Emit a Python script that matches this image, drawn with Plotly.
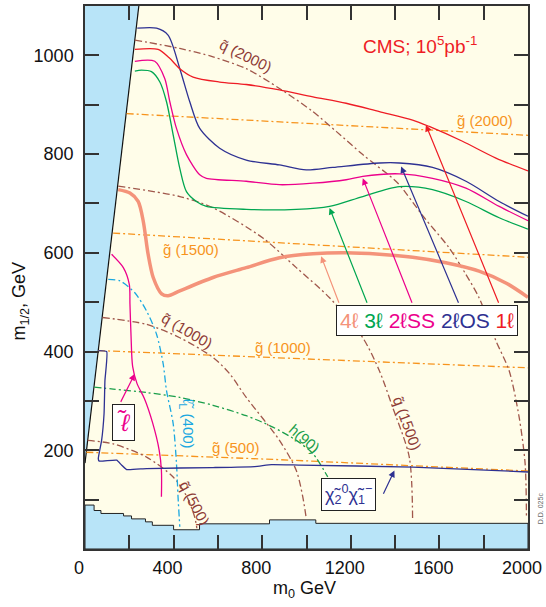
import plotly.graph_objects as go

# ---------------- data (m0, m1/2 in GeV) ----------------
x_tick_vals = [0, 400, 800, 1200, 1600, 2000]
x_tick_text = ['0', '400', '800', '1200', '1600', '2000']
y_tick_vals = [200, 400, 600, 800, 1000]
y_tick_text = ['200', '400', '600', '800', '1000']

# excluded regions
left_edge_m0 = [0, 243]
left_edge_m12 = [174, 1100]
stair_edges = [0, 41, 72, 174, 210, 273, 304, 400, 517, 833, 1042, 2000]
stair_levels = [89, 78, 72, 67, 61, 55, 48, 39, 51, 59, 52]

# reach contours
red_1l_m0 = [225, 330, 380, 428, 488, 608, 728, 878, 1029, 1179, 1329, 1479, 1554, 1704, 1855, 2000]
red_1l_m12 = [1012, 1012, 995, 973, 956, 946, 941, 930, 916, 903, 886, 869, 856, 826, 792, 766]

os_2l_m0 = [236, 323, 375, 428, 473, 518, 608, 728, 878, 999, 1119, 1330, 1419, 1569, 1720, 1870, 2000]
os_2l_m12 = [1055, 1055, 1041, 973, 906, 852, 812, 788, 778, 768, 773, 782, 782, 773, 745, 704, 674]

ss_2l_m0 = [225, 315, 360, 383, 413, 458, 518, 548, 728, 878, 1029, 1179, 1254, 1419, 1569, 1720, 1870, 2000]
ss_2l_m12 = [988, 988, 953, 906, 852, 799, 758, 751, 745, 738, 741, 748, 755, 760, 751, 731, 694, 665]

l3_m0 = [225, 255, 300, 338, 368, 398, 428, 458, 503, 548, 728, 954, 1104, 1254, 1419, 1569, 1720, 1870, 2000]
l3_m12 = [968, 970, 967, 946, 906, 839, 771, 724, 704, 694, 688, 688, 694, 714, 734, 728, 704, 671, 648]

l4_m0 = [150, 203, 240, 263, 285, 308, 346, 375, 428, 578, 728, 878, 1029, 1179, 1329, 1479, 1629, 1779, 1900, 2000]
l4_m12 = [728, 721, 704, 664, 597, 550, 517, 513, 523, 550, 570, 590, 598, 600, 597, 591, 580, 563, 539, 510]

slep_m0 = [120, 173, 200, 203, 208, 215, 235, 268, 305, 335, 345, 345]
slep_m12 = [597, 570, 536, 496, 430, 370, 335, 305, 256, 200, 159, 106]

chi_m0 = [60, 98, 90, 86, 75, 60, 64, 143, 165, 188, 278, 578, 766, 842, 969, 1479, 2000]
chi_m12 = [402, 400, 341, 274, 220, 183, 178, 180, 170, 161, 163, 165, 167, 171, 170, 166, 156]

# mass contours
sl400_m0 = [105, 158, 225, 278, 323, 353, 368, 398, 413, 420, 428]
sl400_m12 = [546, 543, 519, 482, 435, 375, 321, 254, 173, 106, 45]

h90_m0 = [41, 127, 278, 428, 578, 728, 848, 954, 1029, 1096]
h90_m12 = [328, 324, 317, 307, 291, 270, 247, 220, 193, 146]

q2000_m0 = [225, 428, 578, 728, 878, 1029, 1134, 1254, 1389, 1419, 1532, 1644, 1720, 1779, 1855, 1915, 1960, 1987, 1993]
q2000_m12 = [1031, 1014, 997, 973, 933, 886, 846, 799, 751, 738, 671, 610, 556, 509, 422, 361, 267, 173, 62]
q1500_m0 = [150, 428, 578, 803, 954, 1104, 1254, 1329, 1389, 1464, 1479]
q1500_m12 = [735, 714, 691, 630, 570, 509, 428, 361, 287, 186, 59]
q1000_m0 = [79, 278, 428, 578, 653, 728, 878, 954, 983, 999]
q1000_m12 = [469, 455, 428, 388, 355, 307, 220, 159, 106, 62]
q500_m0 = [12, 127, 278, 398, 460, 495, 505]
q500_m12 = [220, 213, 186, 146, 106, 65, 42]

g2000_m0, g2000_m12 = [188, 2000], [882, 838]
g1500_m0, g1500_m12 = [127, 2000], [640, 591]
g1000_m0, g1000_m12 = [59, 2000], [402, 367]
g500_m0, g500_m12 = [6, 878, 2000], [196, 181, 158]

# ---------------- styles ----------------
FONT = "Liberation Sans, Arial, Helvetica, sans-serif"
C_RED = '#EE1C25'
C_NAVY = '#2E3192'
C_MAG = '#EC008C'
C_GRN = '#00A651'
C_SAL = '#F4937A'
C_BRN = '#A0574B'
C_BRN_T = '#8E3B36'
C_ORG = '#F7941D'
C_CYAN = '#1BA8E0'
C_HGRN = '#1A9E4A'
C_FILL = '#B8E4F8'
DASHDOT = '7px,3px,2px,3px'

fig = go.Figure()

# excluded regions
fig.add_trace(go.Scatter(
    x=[left_edge_m0[0], left_edge_m0[1], 0], y=[left_edge_m12[0], left_edge_m12[1], left_edge_m12[1]],
    fill='toself', fillcolor=C_FILL, line=dict(width=0), mode='lines',
    hoverinfo='skip', showlegend=False))
fig.add_trace(go.Scatter(x=left_edge_m0, y=left_edge_m12, mode='lines',
                         line=dict(color='#111', width=1.2), hoverinfo='skip', showlegend=False))

sx, sy = [0], [0]
for i, lvl in enumerate(stair_levels):
    sx += [stair_edges[i], stair_edges[i + 1]]
    sy += [lvl, lvl]
sx += [stair_edges[-1], 0]
sy += [0, 0]
fig.add_trace(go.Scatter(x=sx, y=sy, fill='toself', fillcolor=C_FILL, mode='lines',
                         line=dict(color='#222', width=1), hoverinfo='skip', showlegend=False))


def add_line(x, y, color, width=1.3, dash='solid', shape='spline', smoothing=0.8):
    fig.add_trace(go.Scatter(x=x, y=y, mode='lines',
                             line=dict(color=color, width=width, dash=dash, shape=shape,
                                       smoothing=smoothing if shape == 'spline' else None),
                             hoverinfo='skip', showlegend=False))


# mass contours
for gx, gy in [(g2000_m0, g2000_m12), (g1500_m0, g1500_m12), (g1000_m0, g1000_m12), (g500_m0, g500_m12)]:
    add_line(gx, gy, C_ORG, 1.3, DASHDOT, shape='linear')
for qx, qy in [(q2000_m0, q2000_m12), (q1500_m0, q1500_m12), (q1000_m0, q1000_m12), (q500_m0, q500_m12)]:
    add_line(qx, qy, C_BRN, 1.3, DASHDOT)
add_line(sl400_m0, sl400_m12, C_CYAN, 1.3, DASHDOT)
add_line(h90_m0, h90_m12, C_HGRN, 1.3, DASHDOT)

# reach contours
add_line(l4_m0, l4_m12, C_SAL, 3.5)
add_line(l3_m0, l3_m12, C_GRN, 1.3)
add_line(ss_2l_m0, ss_2l_m12, C_MAG, 1.3)
add_line(os_2l_m0, os_2l_m12, C_NAVY, 1.3)
add_line(red_1l_m0, red_1l_m12, C_RED, 1.3)
add_line(slep_m0, slep_m12, C_MAG, 1.3)
add_line(chi_m0, chi_m12, C_NAVY, 1.3, smoothing=0.4)

ann = []


def label(x, y, text, color, size=15, angle=0):
    ann.append(dict(x=x, y=y, xref='x', yref='y', text=text, showarrow=False,
                    textangle=angle, font=dict(color=color, size=size, family=FONT),
                    xanchor='center', yanchor='middle'))


def arrow(x, y, ax, ay, color):
    ann.append(dict(x=x, y=y, ax=ax, ay=ay, xref='x', yref='y', axref='x', ayref='y',
                    text='', showarrow=True, arrowhead=2, arrowsize=1.1, arrowwidth=1.2,
                    arrowcolor=color))


label(725, 1000, 'q\u0303 (2000)', C_BRN_T, 15, 26)
label(1807, 868, 'g\u0303 (2000)', C_ORG, 15)
label(1514, 1021, 'CMS; 10<sup>5</sup>pb<sup>-1</sup>', C_RED, 19)
label(478, 607, 'g\u0303 (1500)', C_ORG, 15)
label(460, 442, 'q\u0303 (1000)', C_BRN_T, 15, 30)
label(892, 408, 'g\u0303 (1000)', C_ORG, 15)
label(991, 224, 'h(90)', C_HGRN, 15, 41)
label(460, 254, '\u2113\u0303<sub>L</sub> (400)', C_CYAN, 15, 90)
label(680, 206, 'g\u0303 (500)', C_ORG, 15)
label(1455, 254, 'q\u0303 (1500)', C_BRN_T, 15, 70)
label(496, 93, 'q\u0303 (500)', C_BRN_T, 15, 62)

# legend box
legend_text = ('<span style="color:%s">4\u2113</span> <span style="color:%s">3\u2113</span> '
               '<span style="color:%s">2\u2113SS</span> <span style="color:%s">2\u2113OS</span> '
               '<span style="color:%s">1\u2113</span>') % (C_SAL, C_GRN, C_MAG, C_NAVY, C_RED)
ann.append(dict(x=1543, y=462, xref='x', yref='y', text=legend_text, showarrow=False,
                font=dict(size=21, family=FONT), bgcolor='white', bordercolor='#222',
                borderwidth=1, borderpad=3, xanchor='center', yanchor='middle'))
ann.append(dict(x=173, y=257, xref='x', yref='y', text='<i>\u2113\u0303</i>', showarrow=False,
                font=dict(size=24, family=FONT, color=C_MAG), bgcolor='white', bordercolor='#222',
                borderwidth=1, borderpad=4, xanchor='center', yanchor='middle'))
ann.append(dict(x=1189, y=111, xref='x', yref='y',
                text='\u03c7\u0303<sub>2</sub><sup>0</sup>\u03c7\u0303<sub>1</sub><sup>\u2212</sup>',
                showarrow=False, font=dict(size=18, family=FONT, color=C_NAVY), bgcolor='white',
                bordercolor='#222', borderwidth=1, borderpad=3, xanchor='center', yanchor='middle'))

# arrows
arrow(1066, 593, 1149, 496, C_SAL)
arrow(1104, 691, 1276, 496, C_GRN)
arrow(1254, 751, 1479, 496, C_MAG)
arrow(1427, 775, 1689, 496, C_NAVY)
arrow(1539, 859, 1870, 496, C_RED)
arrow(225, 355, 158, 295, C_MAG)
arrow(1397, 159, 1344, 109, C_NAVY)

# axis titles
ann.append(dict(x=0.495, y=-0.075, xref='paper', yref='paper', text='m<sub>0</sub> GeV',
                showarrow=False, font=dict(size=18, family=FONT, color='#111'),
                xanchor='center', yanchor='middle'))
ann.append(dict(x=-0.145, y=0.457, xref='paper', yref='paper', text='m<sub>1/2</sub>, GeV',
                showarrow=False, textangle=-90, font=dict(size=18, family=FONT, color='#111'),
                xanchor='center', yanchor='middle'))
ann.append(dict(x=1.027, y=0.075, xref='paper', yref='paper', text='D.D. 025c',
                showarrow=False, textangle=-90, font=dict(size=7, family=FONT, color='#666'),
                xanchor='center', yanchor='middle'))

axis_common = dict(showgrid=False, zeroline=False, showline=True, linecolor='#333', linewidth=1.5,
                   mirror='ticks', ticks='inside', ticklen=14, tickwidth=1.5, tickcolor='#333',
                   tickfont=dict(size=18, family=FONT, color='#111'),
                   ticklabeloverflow='allow')
fig.update_xaxes(range=[0, 2000], tickmode='array', tickvals=x_tick_vals, ticktext=x_tick_text,
                 ticklabelstandoff=2, ticklabelshift=-6,
                 minor=dict(dtick=200, ticks='inside', ticklen=14, tickwidth=1.5, tickcolor='#333'),
                 **axis_common)
fig.update_yaxes(range=[0, 1100], tickmode='array', tickvals=y_tick_vals, ticktext=y_tick_text,
                 ticklabelstandoff=6,
                 minor=dict(dtick=100, ticks='inside', ticklen=14, tickwidth=1.5, tickcolor='#333'),
                 **axis_common)

fig.update_layout(width=546, height=607, margin=dict(l=85, r=17, t=4, b=58),
                  plot_bgcolor='#FFFDE9', paper_bgcolor='white', annotations=ann,
                  showlegend=False, font=dict(family=FONT))

fig.write_html("out.html")
